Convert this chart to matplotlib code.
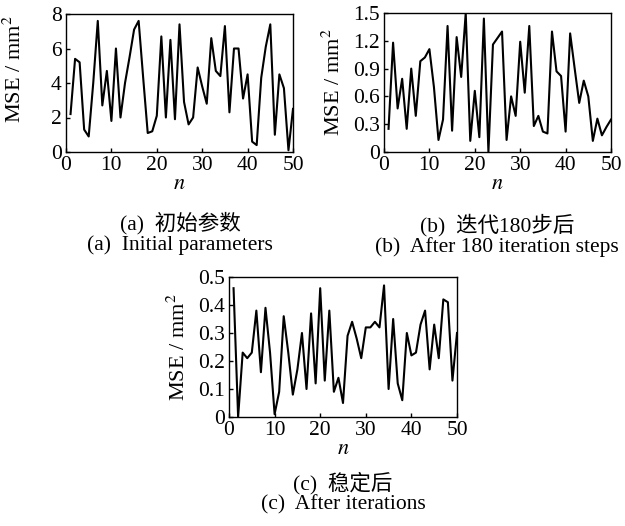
import numpy as np
import matplotlib
matplotlib.use("Agg")
import matplotlib.pyplot as plt

plt.rcParams['font.family'] = ['Liberation Serif', 'Noto Sans CJK SC']
plt.rcParams['mathtext.fontset'] = 'stix'

n = np.arange(1, 51)

# (a) initial parameters
mse_a = [2.2, 5.4, 5.2, 1.3, 0.9, 4.0, 7.6, 2.7, 4.7, 1.8,
         6.0, 2.0, 4.0, 5.5, 7.1, 7.6, 4.3, 1.1, 1.2, 2.1,
         6.7, 2.0, 6.5, 1.9, 7.4, 2.9, 1.6, 2.0, 4.9, 3.8,
         2.8, 6.6, 4.7, 4.4, 7.3, 2.3, 6.0, 6.0, 3.1, 4.5,
         0.6, 0.4, 4.3, 6.1, 7.4, 1.0, 4.5, 3.7, 0.1, 2.5]
# (b) after 180 iteration steps
mse_b = [0.25, 1.18, 0.47, 0.79, 0.25, 0.90, 0.39, 0.98, 1.02, 1.11,
         0.70, 0.13, 0.35, 1.36, 0.23, 1.24, 0.81, 1.50, 0.12, 0.66,
         0.16, 1.44, 0.00, 1.16, 1.23, 1.30, 0.13, 0.60, 0.39, 1.19,
         0.64, 1.36, 0.28, 0.39, 0.22, 0.20, 1.30, 0.87, 0.82, 0.22,
         1.28, 0.90, 0.53, 0.77, 0.60, 0.12, 0.36, 0.18, 0.27, 0.35]
# (c) after iterations
mse_c = [0.46, 0.00, 0.23, 0.21, 0.23, 0.38, 0.16, 0.39, 0.23, 0.01,
         0.09, 0.36, 0.23, 0.08, 0.17, 0.30, 0.10, 0.37, 0.12, 0.46,
         0.13, 0.38, 0.09, 0.14, 0.05, 0.29, 0.34, 0.28, 0.21, 0.32,
         0.32, 0.34, 0.32, 0.47, 0.10, 0.35, 0.12, 0.06, 0.30, 0.22,
         0.23, 0.33, 0.38, 0.17, 0.33, 0.21, 0.42, 0.41, 0.13, 0.30]

W, H = 625, 526
fig = plt.figure(figsize=(W / 100, H / 100), dpi=100)


def make_ax(x0, y0, x1, y1):
    return fig.add_axes([x0 / W, 1 - y1 / H, (x1 - x0) / W, (y1 - y0) / H])


def draw(ax, y, ymax, yticks, ylabels):
    ax.plot(n, y, color='black', lw=1.5)
    ax.set_xlim(0, 50)
    ax.set_ylim(0, ymax)
    ax.set_xticks([0, 10, 20, 30, 40, 50])
    ax.set_yticks(yticks)
    ax.set_yticklabels(ylabels)
    ax.tick_params(direction='in', length=3, width=1, labelsize=15.5, pad=3)
    for s in ax.spines.values():
        s.set_linewidth(1)
    ax.set_ylabel('MSE / mm$^2$', fontsize=16, labelpad=6)
    ax.set_xlabel('$n$', fontsize=16, labelpad=0)


ax_a = make_ax(66, 14, 293, 152)
draw(ax_a, mse_a, 8, [0, 2, 4, 6, 8], ['0', '2', '4', '6', '8'])
ax_a.yaxis.set_label_coords(-0.175, 0.6)
ax_b = make_ax(384, 13, 611, 152)
draw(ax_b, mse_b, 1.5, [0, 0.3, 0.6, 0.9, 1.2, 1.5],
     ['0', '0.3', '0.6', '0.9', '1.2', '1.5'])
ax_c = make_ax(229, 277, 457, 417)
draw(ax_c, mse_c, 0.5, [0, 0.1, 0.2, 0.3, 0.4, 0.5],
     ['0', '0.1', '0.2', '0.3', '0.4', '0.5'])

# captions
cn = dict(ha='center', va='center', fontsize=15.5)
en = dict(ha='center', va='center', fontsize=15.5)
fig.text(180 / W, 1 - 223 / H, '(a)  初始参数', **cn)
fig.text(180 / W, 1 - 245 / H, '(a)  Initial parameters', **en)
fig.text(497 / W, 1 - 225 / H, '(b)  迭代180步后', **cn)
fig.text(497 / W, 1 - 247 / H, '(b)  After 180 iteration steps', **en)
fig.text(343 / W, 1 - 483 / H, '(c)  稳定后', **cn)
fig.text(343 / W, 1 - 505 / H, '(c)  After iterations', **en)

fig.savefig('out.png', dpi=100)
